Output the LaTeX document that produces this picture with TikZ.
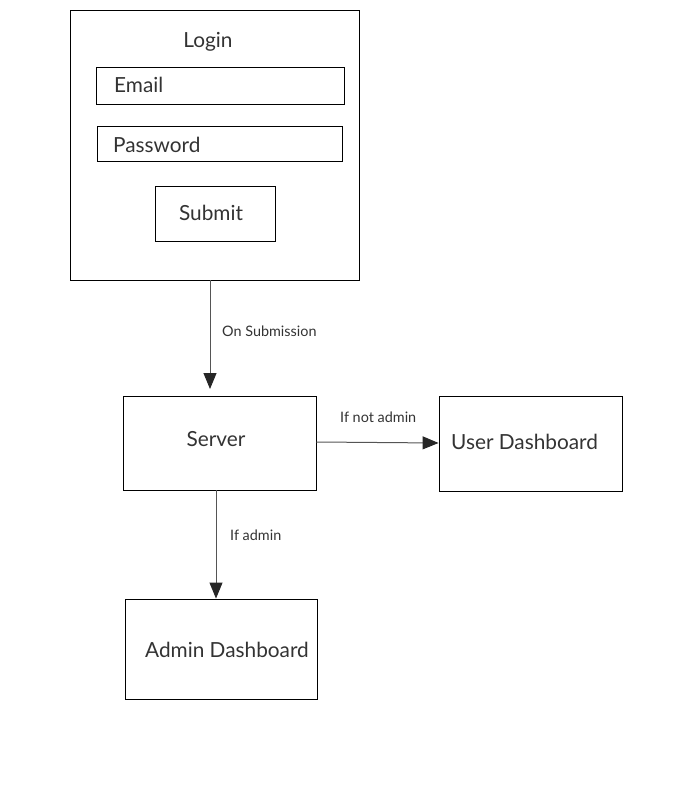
\documentclass[tikz,border=0pt]{standalone}
\usepackage{fontspec}
\setmainfont{Lato}
\usetikzlibrary{arrows.meta}
\definecolor{txt}{HTML}{333333}
\definecolor{edge}{HTML}{555555}
\tikzset{
  box/.style={draw=black, line width=0.9pt, inner sep=0pt},
  big/.style={font=\fontsize{20.8}{24}\selectfont, text=txt, inner sep=0pt},
  lbl/.style={font=\fontsize{14.4}{17}\selectfont, text=txt, inner sep=0pt, anchor=west},
  conn/.style={draw=edge, line width=1pt, -{Triangle[length=16pt,width=13pt,fill=black!85,color=black!85]}},
}
\begin{document}
\begin{tikzpicture}[x=1pt,y=-1pt]
\useasboundingbox (0,0) rectangle (681,810);
% boxes
\draw[box] (70,10) rectangle (359,280);
\coordinate (loginbot) at (210,280);
\node[big] (login) at (208,41.5) {Login};
\draw[box] (96,67) rectangle (344,104);
\node[big, anchor=west] (email) at (114,85) {Email};
\draw[box] (97,126) rectangle (342,161);
\node[big, anchor=west] (pass) at (113,145) {Password};
\draw[box] (155,186) rectangle (275,241);
\node[big] (submit) at (211,213) {Submit};

\node[box, minimum width=193pt, minimum height=94pt] (server) at (219.5,443) {};
\node[big] at (216,439) {Server};
\node[box, minimum width=183pt, minimum height=95pt] (user) at (530.5,443.5) {};
\node[big, anchor=west] at (451,442) {User Dashboard};
\node[box, minimum width=192pt, minimum height=100pt] (admin) at (221,649) {};
\node[big, anchor=west] at (145,650) {Admin Dashboard};

% connectors
\draw[conn] (loginbot) -- (210,389);
\node[lbl] at (222,331) {On Submission};
\draw[conn] (server.east |- 0,442) -- (user.west |- 0,443);
\node[lbl] at (340,417) {If not admin};
\draw[conn] (216,490) -- (admin.north -| 216,0);
\node[lbl] at (230,535) {If admin};
\end{tikzpicture}
\end{document}
